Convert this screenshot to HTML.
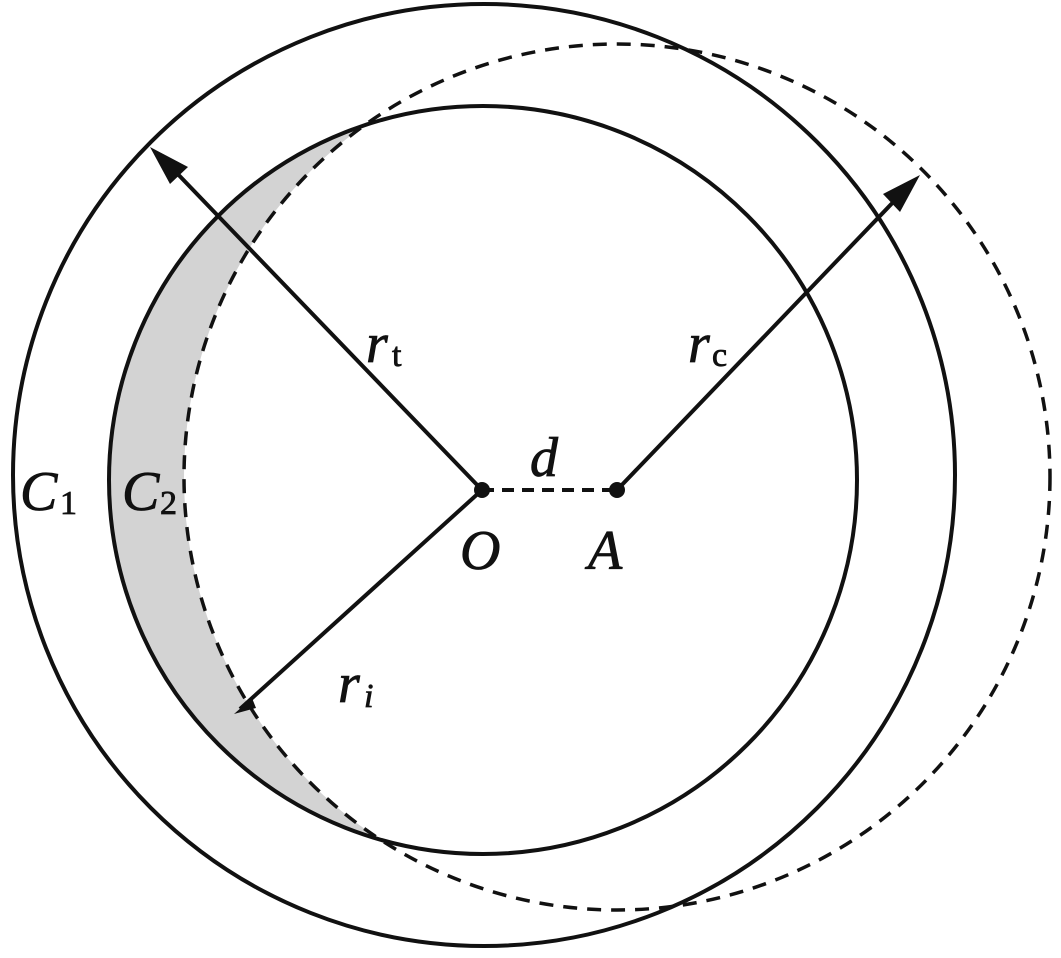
<!DOCTYPE html>
<html><head><style>html,body{margin:0;padding:0;background:#fff}svg{display:block}
text{font-family:"Liberation Serif",serif;font-style:italic;fill:#111;stroke:#111;stroke-width:0.8}
.u{font-style:normal}</style></head>
<body>
<svg width="1061" height="958" viewBox="0 0 1061 958" xmlns="http://www.w3.org/2000/svg">
<circle cx="483" cy="480" r="374" fill="#d3d3d3"/>
<circle cx="617" cy="477" r="433" fill="#fff"/>
<circle cx="484" cy="475" r="471" fill="none" stroke="#111" stroke-width="4"/>
<circle cx="483" cy="480" r="374" fill="none" stroke="#111" stroke-width="4"/>
<circle cx="617" cy="477" r="433" fill="none" stroke="#111" stroke-width="3.5" stroke-dasharray="14,10"/>
<line x1="482" y1="490" x2="617" y2="490" stroke="#111" stroke-width="4" stroke-dasharray="12,8"/>
<line x1="482" y1="490" x2="170" y2="166" stroke="#111" stroke-width="4"/>
<polygon points="150,147 188,167 170,184" fill="#111"/>
<line x1="617" y1="490" x2="900" y2="195" stroke="#111" stroke-width="4"/>
<polygon points="920,175 900,212 883,194" fill="#111"/>
<line x1="482" y1="490" x2="240" y2="709" stroke="#111" stroke-width="4"/>
<polygon points="234,714 252,698 256,708" fill="#111"/>
<circle cx="482" cy="490" r="8" fill="#111"/>
<circle cx="617" cy="490" r="8" fill="#111"/>
<g font-size="56">
<text x="366" y="362">r</text><text class="u" x="392" y="366" font-size="34">t</text>
<text x="688" y="362">r</text><text class="u" x="712" y="366" font-size="34">c</text>
<text x="338" y="702">r</text><text x="364" y="707" font-size="34">i</text>
<text x="20" y="510">C</text><text class="u" x="60" y="514" font-size="34">1</text>
<text x="122" y="510">C</text><text class="u" x="160" y="514" font-size="34">2</text>
<text x="530" y="476">d</text>
<text x="460" y="569">O</text>
<text x="588" y="569">A</text>
</g>
</svg>
</body></html>
